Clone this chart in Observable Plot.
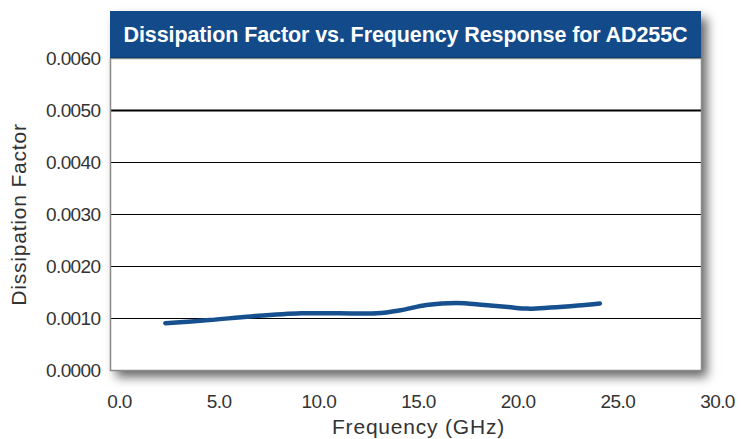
<!DOCTYPE html>
<html>
<head>
<meta charset="utf-8">
<script src="https://cdn.jsdelivr.net/npm/d3@7"></script>
<script src="https://cdn.jsdelivr.net/npm/@observablehq/plot@0.6"></script>
<style>
  html, body { margin: 0; padding: 0; background: #fff; }
  #wrap { position: relative; width: 741px; height: 439px; overflow: hidden; font-family: "Liberation Sans", Arial, sans-serif; }
  #box { position: absolute; left: 110px; top: 11px; width: 591px; height: 359px; background: #fff;
         box-shadow: 6px 7px 10px rgba(0,0,0,0.6); }
  #header { position: absolute; left: 110px; top: 11px; width: 591px; height: 47px; background: #134b8a;
            color: #fff; font-weight: bold; font-size: 21.5px; line-height: 49px; text-align: center; z-index: 2;
            border-bottom: 1px solid #0d3a6e; box-sizing: border-box; letter-spacing: -0.1px; }
  #chart { position: absolute; left: 0; top: 0; z-index: 1; }
  #chart svg { background: transparent; overflow: visible; }
</style>
</head>
<body>
<div id="wrap">
  <div id="box"></div>
  <div id="chart"></div>
  <div id="header">Dissipation Factor vs. Frequency Response for AD255C</div>
</div>
<script>
const title = "Dissipation Factor vs. Frequency Response for AD255C";
const xLabel = "Frequency (GHz)";
const yLabel = "Dissipation Factor";
const xTicks = [0, 5, 10, 15, 20, 25, 30];
const yTicks = [0, 0.001, 0.002, 0.003, 0.004, 0.005, 0.006];
const freqGHz = [2.3, 4.5, 6.6, 9.1, 11.0, 12.9, 14.1, 15.4, 16.9, 18.3, 19.5, 20.5, 21.6, 23.0, 24.1];
const dissipation = [0.00091, 0.00097, 0.00104, 0.00110, 0.00110, 0.00110, 0.00116, 0.00126, 0.00130, 0.00126, 0.00122, 0.00119, 0.00121, 0.00125, 0.00129];

const data = freqGHz.map((f, i) => ({f, d: dissipation[i]}));
const xDomain = [0, 30];

const chart = Plot.plot({
  width: 741,
  height: 439,
  marginLeft: 110,
  marginRight: 40,
  marginTop: 58,
  marginBottom: 69,
  style: {fontFamily: "Liberation Sans, Arial, sans-serif", fontSize: "19px", color: "#333", background: "transparent"},
  x: {domain: xDomain, range: [119, 717], ticks: xTicks},
  y: {domain: [0, 0.006], ticks: yTicks},
  marks: [
    Plot.ruleY(yTicks.filter(v => v > 0 && v < 0.006 && v !== 0.005), {stroke: "#000", strokeWidth: 1}),
    Plot.ruleY([0.005], {stroke: "#000", strokeWidth: 2}),
    Plot.frame({stroke: "#8a8a8a", strokeWidth: 1.5}),
    Plot.line(data, {x: "f", y: "d", stroke: "#17508f", strokeWidth: 4.5, curve: "catmull-rom"}),
    Plot.axisY({ticks: yTicks, tickSize: 0, tickPadding: 10, tickFormat: d3.format(".4f"),
                label: yLabel, labelAnchor: "center", labelArrow: "none", labelOffset: 99, fontSize: 19}),
    Plot.axisX({ticks: xTicks, tickSize: 0, tickPadding: 24, tickFormat: d3.format(".1f"), label: null, fontSize: 19}),
    Plot.text([xLabel], {x: d3.mean(xDomain), frameAnchor: "bottom", dy: 63, fontSize: 21, fill: "#333", text: d => d})
  ]
});
chart.querySelectorAll('[aria-label="y-axis tick label"] text, [aria-label="x-axis tick label"] text').forEach(t => t.style.letterSpacing = "-0.6px");
chart.querySelectorAll('[aria-label="text"] text').forEach(t => t.style.letterSpacing = "0.8px");
chart.querySelectorAll('[aria-label="y-axis label"] text').forEach(t => { t.style.fontSize = "21px"; t.style.letterSpacing = "0.8px"; });
document.getElementById("chart").appendChild(chart);
</script>
</body>
</html>
